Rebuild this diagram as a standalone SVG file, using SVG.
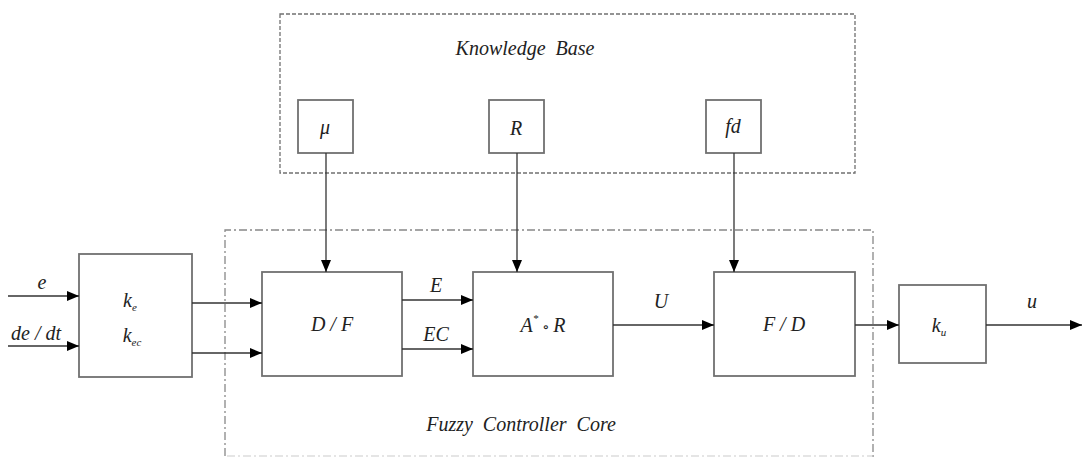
<svg xmlns="http://www.w3.org/2000/svg" width="1082" height="459" viewBox="0 0 1082 459">
<style>
.box{fill:#fff;stroke:#707070;stroke-width:1.8}
.ln{stroke:#333;stroke-width:1.3;fill:none}
text{font-family:"Liberation Serif","Times New Roman","DejaVu Serif",serif;font-style:italic;fill:#222;font-size:20px;text-anchor:middle}
.sub{font-size:11px}
.kb{fill:none;stroke:#707070;stroke-width:1.3;stroke-dasharray:4 2}
.core{fill:none;stroke:#888;stroke-width:1.3;stroke-dasharray:8 3 2 3}
</style>
<defs>
<marker id="ah" viewBox="0 0 12 10" refX="12" refY="5" markerWidth="12" markerHeight="10" markerUnits="userSpaceOnUse" orient="auto">
<path d="M0,0 L12,5 L0,10 Z" fill="#000"/>
</marker>
</defs>
<rect fill="#fff" width="1082" height="459"/>
<g id="knowledge-base">
<rect class="kb" x="280" y="14" width="575" height="159"/>
<text x="525" y="55" font-size="19" xml:space="preserve">Knowledge  Base</text>
</g>
<g id="fuzzy-core">
<path class="core" d="M225,456 L225,230 L873,230 L873,459"/>
<path d="M227,456 L873,456" stroke="#ccc" stroke-width="1.2" stroke-dasharray="8 3 2 3"/>
<text x="521" y="431" font-size="19" xml:space="preserve">Fuzzy  Controller  Core</text>
</g>
<g id="mu">
<rect class="box" x="298" y="100" width="55" height="53"/>
<text x="325" y="134">μ</text>
</g>
<g id="R">
<rect class="box" x="489" y="100" width="55" height="53"/>
<text x="516" y="135">R</text>
</g>
<g id="fd">
<rect class="box" x="706" y="100" width="55" height="53"/>
<text x="733" y="133">fd</text>
</g>
<g id="gain-in">
<rect class="box" x="79" y="254" width="113" height="123"/>
<text x="130" y="307">k<tspan class="sub" dy="4">e</tspan></text>
<text x="132" y="342">k<tspan class="sub" dy="4">ec</tspan></text>
</g>
<g id="DF">
<rect class="box" x="262" y="272" width="140" height="104"/>
<text x="332" y="331" xml:space="preserve">D / F</text>
</g>
<g id="AR">
<rect class="box" x="473" y="272" width="140" height="104"/>
<text x="543" y="332">A<tspan font-size="11" dy="-10">*</tspan><tspan dy="10" font-style="normal" font-size="15"> ∘ </tspan>R</text>
</g>
<g id="FD">
<rect class="box" x="714" y="272" width="141" height="104"/>
<text x="784" y="331" xml:space="preserve">F / D</text>
</g>
<g id="gain-out">
<rect class="box" x="899" y="285" width="87" height="78"/>
<text x="939" y="332">k<tspan class="sub" dy="4">u</tspan></text>
</g>
<g id="connectors">
<line class="ln" x1="326" y1="153" x2="326" y2="272" marker-end="url(#ah)"/>
<line class="ln" x1="517" y1="153" x2="517" y2="272" marker-end="url(#ah)"/>
<line class="ln" x1="734" y1="153" x2="734" y2="272" marker-end="url(#ah)"/>
<line class="ln" x1="8" y1="296" x2="79" y2="296" marker-end="url(#ah)"/>
<line class="ln" x1="8" y1="346" x2="79" y2="346" marker-end="url(#ah)"/>
<line class="ln" x1="192" y1="303" x2="262" y2="303" marker-end="url(#ah)"/>
<line class="ln" x1="192" y1="353" x2="262" y2="353" marker-end="url(#ah)"/>
<line class="ln" x1="402" y1="300" x2="473" y2="300" marker-end="url(#ah)"/>
<line class="ln" x1="402" y1="349" x2="473" y2="349" marker-end="url(#ah)"/>
<line class="ln" x1="613" y1="325" x2="714" y2="325" marker-end="url(#ah)"/>
<line class="ln" x1="855" y1="325" x2="899" y2="325" marker-end="url(#ah)"/>
<line class="ln" x1="986" y1="325" x2="1082" y2="325" marker-end="url(#ah)"/>
<text x="42" y="289">e</text>
<text x="36" y="340" xml:space="preserve">de / dt</text>
<text x="436" y="292">E</text>
<text x="436" y="341">EC</text>
<text x="661" y="308">U</text>
<text x="1032" y="308">u</text>
</g>
</svg>
